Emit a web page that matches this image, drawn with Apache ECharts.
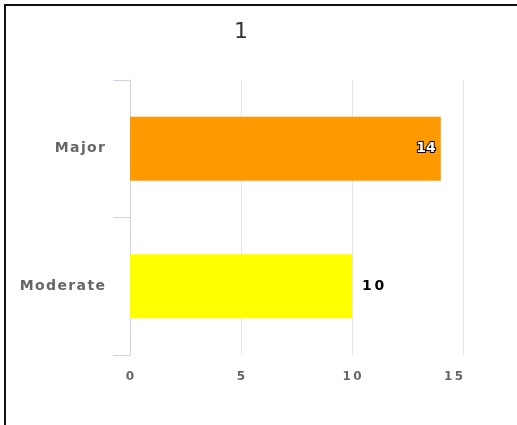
<!DOCTYPE html>
<html>
<head>
<meta charset="utf-8">
<script src="https://cdn.jsdelivr.net/npm/echarts@6/dist/echarts.min.js"></script>
<style>
  html, body { margin: 0; padding: 0; background: #fff; }
  #frame { position: absolute; left: 4px; top: 4px; width: 513px; height: 421px;
           border-top: 2px solid #111; border-left: 2px solid #111; box-sizing: border-box; }
  #chart { position: absolute; left: 0; top: 0; width: 517px; height: 425px; }
</style>
</head>
<body>
<div id="chart"></div>
<div id="frame"></div>
<script>
// Severity breakdown
const titleText = '1';
const categories = ['Major', 'Moderate'];
const counts = [14, 10];
const barColors = ['#ff9900', '#ffff00'];
const xTicks = [0, 5, 10, 15];

const chart = echarts.init(document.getElementById('chart'), null, { renderer: 'canvas' });

const labelFont = 'DejaVu Sans';
// spread characters slightly apart with hair spaces
const spaced = s => String(s).split('').join('\u200A');

chart.setOption({
  animation: false,
  backgroundColor: '#fff',
  title: {
    text: titleText,
    left: 229, top: 16,
    textStyle: { color: '#333', fontSize: 22, fontWeight: 'normal', fontFamily: labelFont }
  },
  grid: { left: 130, right: 54, top: 80, bottom: 70, containLabel: false },
  xAxis: {
    type: 'value',
    min: xTicks[0], max: xTicks[xTicks.length - 1], interval: 5,
    axisLine: { show: false },
    axisTick: { show: false },
    splitLine: { show: true, lineStyle: { color: '#e6e6e6', width: 1 } },
    axisLabel: {
      margin: 16, color: '#666', fontSize: 12, fontWeight: 'bold', fontFamily: labelFont,
      alignMaxLabel: 'right',
      formatter: v => String(v).split('').join('\u2009')
    }
  },
  yAxis: {
    type: 'category',
    data: categories,
    inverse: true,
    axisLine: { show: true, lineStyle: { color: '#ccd6eb', width: 1 } },
    axisTick: { show: true, length: 17, alignWithLabel: false, lineStyle: { color: '#ccd6eb' } },
    axisLabel: { margin: 25, color: '#666', fontSize: 14, fontWeight: 'bold', fontFamily: labelFont,
      formatter: v => spaced(v) }
  },
  series: [{
    type: 'bar',
    barWidth: 64,
    data: counts.map((v, i) => ({
      value: v,
      itemStyle: { color: barColors[i] },
      label: i === 0
        ? { show: true, position: 'insideRight', distance: 5, color: '#fff',
            textBorderColor: '#000', textBorderWidth: 2, fontSize: 14, fontWeight: 'bold', fontFamily: labelFont }
        : { show: true, position: 'right', distance: 10, color: '#000',
            fontSize: 14, fontWeight: 'bold', fontFamily: labelFont,
            formatter: p => String(p.value).split('').join('\u2009') }
    }))
  }]
});
</script>
</body>
</html>
